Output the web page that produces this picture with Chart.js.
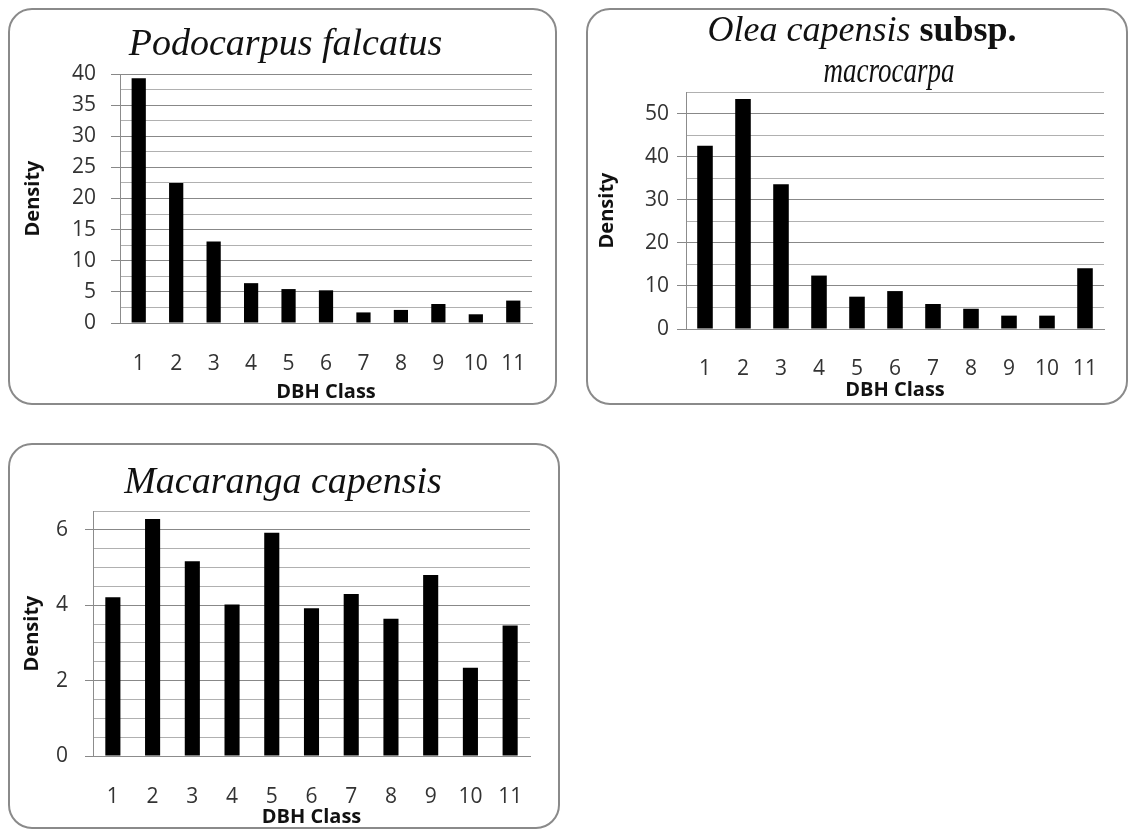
<!DOCTYPE html>
<html>
<head>
<meta charset="utf-8">
<script src="https://cdn.jsdelivr.net/npm/chart.js@4.4.1/dist/chart.umd.min.js"></script>
<style>
  html, body { margin: 0; padding: 0; background: #ffffff; }
  body { width: 1129px; height: 832px; position: relative; overflow: hidden; }
  .panel { position: absolute; box-sizing: border-box; border: 2px solid #8a8a8a; border-radius: 24px; pointer-events: none; z-index: 2; }
  canvas { position: absolute; z-index: 1; }
</style>
</head>
<body>
<div class="panel" style="left:8px;top:8px;width:549px;height:397px"></div>
<div class="panel" style="left:586px;top:8px;width:542px;height:397px"></div>
<div class="panel" style="left:8px;top:443px;width:552px;height:386px"></div>
<canvas id="c1" width="549" height="397" style="left:8px;top:8px"></canvas>
<canvas id="c2" width="542" height="397" style="left:586px;top:8px"></canvas>
<canvas id="c3" width="552" height="386" style="left:8px;top:443px"></canvas>
<script>
// ---------- data ----------
const dbhClasses = ['1', '2', '3', '4', '5', '6', '7', '8', '9', '10', '11'];
const podocarpusDensity = [39.3, 22.5, 13.1, 6.4, 5.45, 5.25, 1.7, 2.1, 3.05, 1.4, 3.6];
const oleaDensity = [42.5, 53.4, 33.6, 12.4, 7.5, 8.8, 5.8, 4.7, 3.1, 3.1, 14.1];
const macarangaDensity = [4.21, 6.29, 5.17, 4.02, 5.92, 3.92, 4.30, 3.64, 4.80, 2.34, 3.46];

const podocarpusAxis = { max: 40, step: 2.5, labelEvery: 5 };
const oleaAxis = { max: 55, step: 5, labelEvery: 10 };
const macarangaAxis = { max: 6.5, step: 0.5, labelEvery: 2 };

const xAxisTitle = 'DBH Class';
const yAxisTitle = 'Density';
const titlePodocarpus = [[{ text: 'Podocarpus falcatus', style: 'italic' }]];
const titleOlea = [
  [{ text: 'Olea capensis ', style: 'italic' }, { text: 'subsp.', style: 'bold' }],
  [{ text: 'macrocarpa', style: 'italic' }]
];
const titleMacaranga = [[{ text: 'Macaranga capensis', style: 'italic' }]];

// ---------- rendering ----------
Chart.defaults.font.family = "'Open Sans', 'DejaVu Sans', sans-serif";
Chart.defaults.color = '#333333';

const serif = "'Liberation Serif', 'DejaVu Serif', serif";
function fontFor(style, size) {
  return style === 'bold' ? `bold ${size}px ${serif}` : `italic ${size}px ${serif}`;
}

const panelTitlePlugin = {
  id: 'panelTitle',
  afterDraw(chart, args, opts) {
    const ctx = chart.ctx;
    ctx.save();
    ctx.fillStyle = '#111111';
    ctx.textBaseline = 'alphabetic';
    ctx.textAlign = 'left';
    opts.lines.forEach((parts, i) => {
      const layout = opts.layout[i];
      const sx = layout.sx || 1;
      let total = 0;
      parts.forEach(p => { ctx.font = fontFor(p.style, opts.size); total += ctx.measureText(p.text).width * sx; });
      let x = chart.width / 2 + layout.dx - total / 2;
      parts.forEach(p => {
        ctx.font = fontFor(p.style, opts.size);
        const w = ctx.measureText(p.text).width * sx;
        ctx.save();
        ctx.translate(x, layout.y);
        ctx.scale(sx, 1);
        ctx.fillText(p.text, 0, 0);
        ctx.restore();
        x += w;
      });
    });
    ctx.restore();
  }
};

function isMajor(v, every) {
  const r = v / every;
  return Math.abs(r - Math.round(r)) < 1e-9;
}

function makeChart(id, values, axis, title, geo) {
  const ctx = document.getElementById(id);
  return new Chart(ctx, {
    type: 'bar',
    data: {
      labels: dbhClasses,
      datasets: [{
        data: values,
        backgroundColor: '#000000',
        borderWidth: 0,
        barPercentage: geo.barPct,
        categoryPercentage: 1.0
      }]
    },
    plugins: [panelTitlePlugin],
    options: {
      responsive: false,
      animation: false,
      events: [],
      layout: { padding: { left: 0, top: geo.top, right: geo.right, bottom: 0 } },
      plugins: {
        legend: { display: false },
        tooltip: { enabled: false },
        title: { display: false },
        panelTitle: { lines: title, layout: geo.titleLayout, size: geo.titleSize }
      },
      scales: {
        x: {
          grid: { display: false, drawTicks: false },
          border: { display: true, color: '#8c8c8c', width: 1 },
          ticks: { autoSkip: false, maxRotation: 0, padding: geo.xTickPad, color: '#333333', font: { size: 21 } },
          title: { display: true, text: xAxisTitle, color: '#111111', font: { size: 20, weight: 'bold' }, padding: { top: 0, bottom: geo.xTitlePad } },
          afterFit(scale) { scale.height = geo.xHeight; }
        },
        y: {
          min: 0,
          max: axis.max,
          grid: {
            drawTicks: true,
            tickLength: geo.tickLen,
            lineWidth: 1,
            color: c => isMajor(c.tick.value, axis.labelEvery) ? '#888888' : '#b0b0b0',
            tickColor: c => isMajor(c.tick.value, axis.labelEvery) ? '#888888' : 'rgba(0,0,0,0)'
          },
          border: { display: true, color: '#8c8c8c', width: 1 },
          ticks: {
            stepSize: axis.step,
            autoSkip: false,
            padding: geo.yTickPad,
            color: '#333333',
            font: { size: 21 },
            callback: v => isMajor(v, axis.labelEvery) ? String(v) : ''
          },
          title: { display: true, text: yAxisTitle, color: '#111111', font: { size: 20, weight: 'bold' }, padding: { top: geo.yTitlePad, bottom: 0 } },
          afterFit(scale) { scale.width = geo.yWidth; }
        }
      }
    }
  });
}

makeChart('c1', podocarpusDensity, podocarpusAxis, titlePodocarpus, {
  barPct: 0.38, top: 66, right: 25, yWidth: 112, xHeight: 82, tickLen: 9, yTickPad: 15, yTitlePad: 13,
  xTickPad: 28, xTitlePad: 1, titleSize: 38, titleLayout: [{ y: 47, dx: 3 }]
});
makeChart('c2', oleaDensity, oleaAxis, titleOlea, {
  barPct: 0.41, top: 84, right: 24, yWidth: 100, xHeight: 76, tickLen: 9, yTickPad: 8, yTitlePad: 9,
  xTickPad: 27, xTitlePad: 3, titleSize: 36, titleLayout: [{ y: 33, dx: 5 }, { y: 74, dx: 32, sx: 0.75 }]
});
makeChart('c3', macarangaDensity, macarangaAxis, titleMacaranga, {
  barPct: 0.38, top: 68, right: 30, yWidth: 85, xHeight: 73, tickLen: 8, yTickPad: 17, yTitlePad: 12,
  xTickPad: 28, xTitlePad: 0, titleSize: 38, titleLayout: [{ y: 50, dx: -1 }]
});
</script>
</body>
</html>
